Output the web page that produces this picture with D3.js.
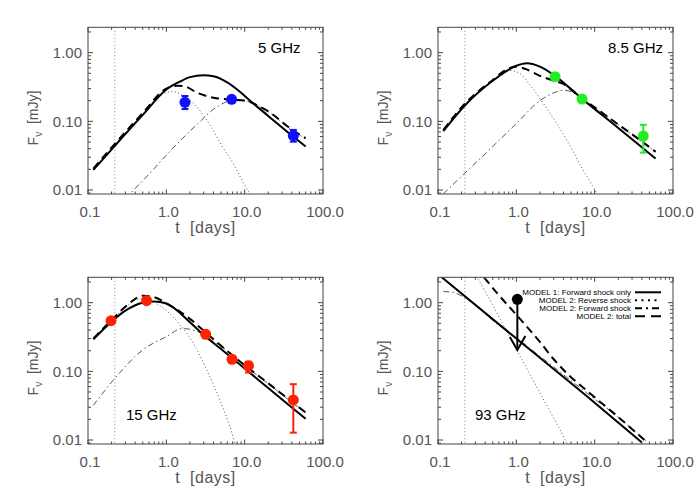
<!DOCTYPE html>
<html><head><meta charset="utf-8">
<script src="https://cdn.jsdelivr.net/npm/d3@7"></script>
<style>body{margin:0;background:#fff} svg{display:block}</style>
</head><body><svg id="c" width="700" height="500"></svg>
<script>
// ---------------- DATA ----------------
const bands = ["5 GHz", "8.5 GHz", "15 GHz", "93 GHz"];
const pointColors = ["#1010ff", "#22ee22", "#ff2200", "#000000"];
const xTickValues = [0.1, 1, 10, 100];
const xTickLabels = ["0.1", "1.0", "10.0", "100.0"];
const yTickValues = [0.01, 0.1, 1];
const yTickLabels = ["0.01", "0.10", "1.00"];
const tRef = 0.22; // vertical dotted marker (days)

// MODEL 1: forward shock only  [t (days), F (mJy)]
const model1_5  = [[0.117,0.0196],[0.22,0.044],[0.5,0.124],[1,0.29],[1.5,0.38],[2,0.44],[3,0.47],[4,0.455],[6,0.37],[8.7,0.27],[11.7,0.2],[20,0.12],[40,0.062],[60,0.043]];
const model1_8  = [[0.117,0.072],[0.22,0.17],[0.5,0.39],[1,0.645],[1.36,0.70],[2,0.625],[3.1,0.46],[6.8,0.216],[20,0.08],[56,0.0306],[60,0.0287]];
const model1_15 = [[0.117,0.293],[0.2,0.529],[0.3,0.765],[0.5,1.0],[0.7,1.04],[1,0.97],[2,0.52],[2.69,0.378],[5,0.211],[10,0.11],[20,0.057],[40,0.0298],[60,0.0204]];
const model1_93 = [[0.1,2.6],[1,0.30],[10,0.035],[40,0.0092]];

// MODEL 2: reverse shock
const reverse_5  = [[0.117,0.0195],[0.22,0.046],[0.5,0.128],[1,0.262],[1.23,0.27],[1.6,0.24],[2.21,0.183],[3.27,0.105],[5.33,0.041],[7.1,0.0245],[11,0.0098],[12,0.0085]];
const reverse_8  = [[0.117,0.074],[0.22,0.175],[0.5,0.39],[0.83,0.55],[1.1,0.50],[1.49,0.338],[2.69,0.131],[4.4,0.0535],[7.1,0.0196],[10.1,0.01],[11,0.0085]];
const reverse_15 = [[0.117,0.295],[0.2,0.55],[0.3,0.85],[0.45,1.13],[0.6,1.12],[0.8,0.92],[1.01,0.76],[1.49,0.48],[2.21,0.256],[3.27,0.105],[4.84,0.038],[7.1,0.0112],[7.6,0.0085]];
const reverse_93 = [[0.25,3.6],[0.311,2.39],[1.01,0.205],[4.4,0.0092],[5,0.007]];

// MODEL 2: forward shock
const forward_5  = [[0.3,0.0075],[0.36,0.0093],[0.6,0.017],[1.17,0.039],[2.56,0.094],[4,0.15],[4.84,0.173],[6.5,0.2],[8,0.205],[10.6,0.197],[14.9,0.166],[20,0.138],[40,0.074],[60,0.056]];
const forward_8  = [[0.117,0.0088],[0.22,0.0176],[0.5,0.043],[1,0.093],[2,0.2],[3,0.26],[4,0.283],[5,0.27],[6.8,0.21],[10,0.158],[20,0.089],[40,0.05],[60,0.036]];
const forward_15 = [[0.117,0.032],[0.22,0.079],[0.5,0.205],[1,0.32],[1.6,0.42],[2.5,0.38],[4,0.27],[5,0.232],[10,0.121],[20,0.066],[40,0.0355],[60,0.025]];
const forward_93 = [[0.117,1.45],[0.15,1.42],[0.21,1.22],[0.3,0.92],[0.5,0.55],[1,0.31],[1.49,0.216],[2,0.166],[4.4,0.082],[8,0.048],[20,0.0215],[48,0.0092]];

// MODEL 2: total
const total_5  = [[0.117,0.0205],[0.22,0.047],[0.5,0.132],[1,0.30],[1.4,0.33],[1.65,0.327],[2.56,0.256],[4,0.221],[6.8,0.207],[10.6,0.198],[14.9,0.168],[20,0.14],[40,0.076],[60,0.057]];
const total_8  = [[0.117,0.075],[0.22,0.18],[0.5,0.40],[0.8,0.59],[1,0.63],[1.3,0.58],[2,0.46],[3,0.39],[4,0.35],[5,0.29],[6.8,0.22],[10,0.16],[20,0.09],[40,0.051],[60,0.036]];
const total_15 = [[0.117,0.30],[0.2,0.56],[0.3,0.87],[0.5,1.26],[0.7,1.2],[1,0.98],[2,0.58],[3,0.39],[5,0.235],[10,0.123],[20,0.067],[40,0.036],[60,0.0252]];
const total_93 = [[0.3,3.2],[0.379,2.39],[0.6,1.28],[1,0.667],[2,0.268],[3,0.15],[4.84,0.085],[8.7,0.048],[19.2,0.0225],[46.4,0.0093]];

// Observations
const obs5_t  = [1.73, 6.82, 41.8];
const obs5_f  = [0.189, 0.209, 0.0618];
const obs5_lo = [0.151, null, 0.0506];
const obs5_hi = [0.234, null, 0.075];
const obs8_t  = [3.12, 6.9, 41.8];
const obs8_f  = [0.447, 0.211, 0.061];
const obs8_lo = [null, null, 0.035];
const obs8_hi = [null, null, 0.089];
const obs15_t  = [0.197, 0.56, 3.18, 6.9, 11.2, 41.8];
const obs15_f  = [0.547, 1.07, 0.346, 0.15, 0.121, 0.0383];
const obs15_lo = [null, null, null, 0.133, 0.096, 0.0128];
const obs15_hi = [null, null, null, 0.167, 0.138, 0.065];
const ul93_t = [1.03];
const ul93_f = [1.12];
const ul93_to = [0.205];

const legendLabels = ["MODEL 1: Forward shock only", "MODEL 2: Reverse shock", "MODEL 2: Forward shock", "MODEL 2: total"];

// ---------------- DRAW ----------------
const svg = d3.select("#c");
const origins = [[0,0],[350,0],[0,250],[350,250]];
const box = {l:88, r:323, t:27.3, b:194};
const x = d3.scaleLog().domain([0.1,100]).range([box.l, box.r]);
const y = d3.scaleLog().domain([0.00875,2.34]).range([box.b, box.t]);
const line = d3.line().x(d=>x(d[0])).y(d=>y(d[1])).curve(d3.curveMonotoneX);

const styles = {
  model1:  {stroke:"#000", width:2, dash:null},
  reverse: {stroke:"#555", width:1, dash:"1,2.5"},
  forward: {stroke:"#555", width:1, dash:"6,3,1.5,3"},
  total:   {stroke:"#000", width:2, dash:"8,5"}
};
const curves = [
  {model1:model1_5, reverse:reverse_5, forward:forward_5, total:total_5},
  {model1:model1_8, reverse:reverse_8, forward:forward_8, total:total_8},
  {model1:model1_15, reverse:reverse_15, forward:forward_15, total:total_15},
  {model1:model1_93, reverse:reverse_93, forward:forward_93, total:total_93}
];
const obs = [
  {t:obs5_t, f:obs5_f, lo:obs5_lo, hi:obs5_hi},
  {t:obs8_t, f:obs8_f, lo:obs8_lo, hi:obs8_hi},
  {t:obs15_t, f:obs15_f, lo:obs15_lo, hi:obs15_hi},
  null
];
const labelPos = [[258,53.3],[258,53.3],[126,170],[125,170]];
const axisColor = "#444", textColor = "#555";
const font = "'Liberation Sans', Arial, Helvetica, sans-serif";

svg.append("defs").append("clipPath").attr("id","clip")
  .append("rect").attr("x",box.l).attr("y",box.t).attr("width",box.r-box.l).attr("height",box.b-box.t);

const minorX = [], minorY = [];
for (let e=-1; e<2; e++) for (let k=2;k<10;k++) minorX.push(k*Math.pow(10,e));
for (let e=-3; e<1; e++) for (let k=2;k<10;k++) { const v=k*Math.pow(10,e); if (v>=0.00875 && v<=2.34) minorY.push(v); }

origins.forEach((o,i)=>{
  const g = svg.append("g").attr("transform",`translate(${o[0]},${o[1]})`);
  // vertical reference line
  g.append("line").attr("x1",x(tRef)).attr("x2",x(tRef)).attr("y1",box.t).attr("y2",box.b)
    .attr("stroke","#888").attr("stroke-width",1).attr("stroke-dasharray","1,2.5");
  // curves
  const cg = g.append("g").attr("clip-path","url(#clip)");
  ["reverse","forward","model1","total"].forEach(k=>{
    const s = styles[k];
    cg.append("path").attr("d", line(curves[i][k])).attr("fill","none")
      .attr("stroke",s.stroke).attr("stroke-width",s.width)
      .attr("stroke-dasharray",s.dash);
  });
  // observations
  const ob = obs[i];
  if (ob) {
    ob.t.forEach((t,j)=>{
      if (ob.lo[j]!=null) {
        const cx = x(t);
        g.append("line").attr("x1",cx).attr("x2",cx).attr("y1",y(ob.lo[j])).attr("y2",y(ob.hi[j]))
          .attr("stroke",pointColors[i]).attr("stroke-width",2);
        [ob.lo[j],ob.hi[j]].forEach(v=>g.append("line").attr("x1",cx-3.5).attr("x2",cx+3.5)
          .attr("y1",y(v)).attr("y2",y(v)).attr("stroke",pointColors[i]).attr("stroke-width",2));
      }
      g.append("circle").attr("cx",x(t)).attr("cy",y(ob.f[j])).attr("r",5.5).attr("fill",pointColors[i]);
    });
  } else {
    ul93_t.forEach((t,j)=>{
      const cx = x(t), y0 = y(ul93_f[j]), y1 = y(ul93_to[j]);
      g.append("line").attr("x1",cx).attr("x2",cx).attr("y1",y0).attr("y2",y1).attr("stroke","#000").attr("stroke-width",2);
      g.append("path").attr("d",`M${cx-7.5},${y1-13}L${cx},${y1}L${cx+8},${y1-14}`)
        .attr("fill","none").attr("stroke","#000").attr("stroke-width",2);
      g.append("circle").attr("cx",cx).attr("cy",y0).attr("r",5.5).attr("fill","#000");
    });
    // legend
    const lg = g.append("g");
    legendLabels.forEach((lab,j)=>{
      const yy = 42.3 + j*8;
      lg.append("text").attr("x",281).attr("y",yy+2.8).attr("text-anchor","end")
        .attr("font-family",font).attr("font-size",8).attr("fill","#000").text(lab);
      const k = ["model1","reverse","forward","total"][j];
      const dashL = {model1:null, reverse:"2,4.5", forward:"7,4,2,4", total:"10,6"}[k];
      lg.append("line").attr("x1",285).attr("x2",311).attr("y1",yy).attr("y2",yy)
        .attr("stroke","#000").attr("stroke-width",2).attr("stroke-dasharray",dashL);
    });
  }
  // box
  g.append("rect").attr("x",box.l).attr("y",box.t).attr("width",box.r-box.l).attr("height",box.b-box.t)
    .attr("fill","none").attr("stroke",axisColor).attr("stroke-width",1);
  // ticks
  const tk = g.append("g").attr("stroke",axisColor).attr("stroke-width",1);
  xTickValues.forEach(v=>{ const xx=x(v);
    tk.append("line").attr("x1",xx).attr("x2",xx).attr("y1",box.b).attr("y2",box.b-4.5);
    tk.append("line").attr("x1",xx).attr("x2",xx).attr("y1",box.t).attr("y2",box.t+4.5); });
  minorX.forEach(v=>{ const xx=x(v);
    tk.append("line").attr("x1",xx).attr("x2",xx).attr("y1",box.b).attr("y2",box.b-2.5);
    tk.append("line").attr("x1",xx).attr("x2",xx).attr("y1",box.t).attr("y2",box.t+2.5); });
  yTickValues.forEach(v=>{ const yy=y(v);
    tk.append("line").attr("x1",box.l).attr("x2",box.l+5).attr("y1",yy).attr("y2",yy);
    tk.append("line").attr("x1",box.r).attr("x2",box.r-5).attr("y1",yy).attr("y2",yy); });
  minorY.forEach(v=>{ const yy=y(v);
    tk.append("line").attr("x1",box.l).attr("x2",box.l+3).attr("y1",yy).attr("y2",yy);
    tk.append("line").attr("x1",box.r).attr("x2",box.r-3).attr("y1",yy).attr("y2",yy); });
  // tick labels
  xTickValues.forEach((v,j)=>g.append("text").attr("x",x(v)+2).attr("y",217).attr("text-anchor","middle")
    .attr("font-family",font).attr("font-size",15).attr("fill",textColor).text(xTickLabels[j]));
  yTickValues.forEach((v,j)=>g.append("text").attr("x",82).attr("y",y(v)+5.3).attr("text-anchor","end")
    .attr("font-family",font).attr("font-size",15).attr("fill",textColor).text(yTickLabels[j]));
  // axis titles
  g.append("text").attr("x",205.5).attr("y",233).attr("text-anchor","middle")
    .attr("font-family",font).attr("font-size",16).attr("fill",textColor).attr("letter-spacing",0.5)
    .text("t\u00a0\u00a0[days]");
  const yt = g.append("text").attr("transform","translate(38,118) rotate(-90)").attr("text-anchor","middle")
    .attr("font-family",font).attr("font-size",14).attr("fill",textColor);
  yt.append("tspan").text("F");
  yt.append("tspan").attr("font-size",10).attr("dy",4).text("\u03bd");
  yt.append("tspan").attr("dy",-4).text("\u00a0\u00a0[mJy]");
  // band label
  g.append("text").attr("x",labelPos[i][0]).attr("y",labelPos[i][1])
    .attr("font-family",font).attr("font-size",15).attr("fill","#000").text(bands[i]);
});
</script></body></html>
